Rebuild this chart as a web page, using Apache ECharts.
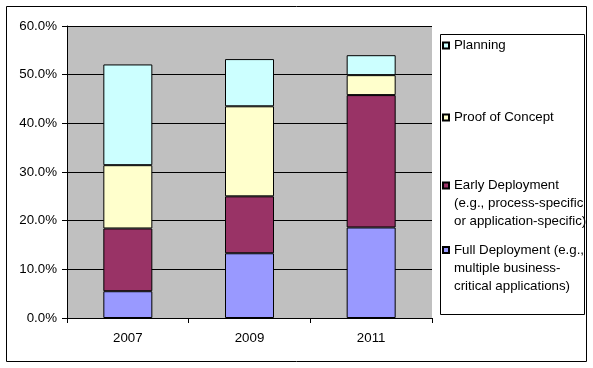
<!DOCTYPE html>
<html>
<head>
<meta charset="utf-8">
<script src="https://cdn.jsdelivr.net/npm/echarts@6/dist/echarts.min.js"></script>
<style>
html,body{margin:0;padding:0;background:#fff;}
#c{width:593px;height:368px;}
</style>
</head>
<body>
<div id="c"></div>
<script>
var categories = ['2007', '2009', '2011'];
var seriesNames = [
  'Full Deployment (e.g.,\nmultiple business-\ncritical applications)',
  'Early Deployment\n(e.g., process-specific\nor application-specific)',
  'Proof of Concept',
  'Planning'
];
var fullDeployment = [5.5, 13.3, 18.6];
var earlyDeployment = [12.9, 11.7, 27.2];
var proofOfConcept = [13.0, 18.5, 4.1];
var planning = [20.7, 9.7, 4.1];
var yTicks = [0, 10, 20, 30, 40, 50, 60];
var colors = ['#9999FF', '#993366', '#FFFFCC', '#CCFFFF'];

var values = [fullDeployment, earlyDeployment, proofOfConcept, planning];
var FONT = 'Liberation Sans, Arial, sans-serif';
var FS = 13.3;
var LH = 18;

var chart = echarts.init(document.getElementById('c'), null, {renderer: 'canvas'});

function legendFor(idx, centerY) {
  var name = seriesNames[idx];
  var lines = name.split('\n').length;
  var boxH = (2 * lines - 1) * LH;
  return {
    show: true,
    data: [name],
    left: 442,
    top: centerY - boxH / 2,
    orient: 'vertical',
    padding: 0,
    itemWidth: 6,
    itemHeight: 6,
    icon: 'rect',
    selectedMode: false,
    formatter: function (n) {
      var k = n.split('\n').length - 1;
      return new Array(k + 1).join('\n') + n;
    },
    textStyle: {fontFamily: FONT, fontSize: FS, color: '#000', lineHeight: LH}
  };
}

var series = values.map(function (arr, i) {
  return {
    name: seriesNames[i],
    type: 'bar',
    stack: 'total',
    barWidth: 49,
    data: arr,
    itemStyle: {color: colors[i], borderColor: '#000', borderWidth: 1},
    emphasis: {disabled: true},
    animation: false
  };
});

chart.setOption({
  animation: false,
  backgroundColor: '#fff',
  textStyle: {fontFamily: FONT},
  grid: {
    left: 67, right: 161, top: 26, bottom: 50,
    containLabel: false,
    outerBoundsMode: 'none',
    show: true,
    backgroundColor: '#C0C0C0',
    borderWidth: 0
  },
  legend: [
    legendFor(3, 45.5),
    legendFor(2, 117.5),
    legendFor(1, 185.5),
    legendFor(0, 250)
  ],
  xAxis: {
    type: 'category',
    data: categories,
    axisLine: {show: true, lineStyle: {color: '#000', width: 1}},
    axisTick: {show: true, length: 5, alignWithLabel: false, lineStyle: {color: '#000'}},
    axisLabel: {color: '#000', fontSize: FS, fontFamily: FONT, margin: 14},
    splitLine: {show: false}
  },
  yAxis: {
    type: 'value',
    min: yTicks[0],
    max: yTicks[yTicks.length - 1],
    interval: 10,
    axisLine: {show: true, lineStyle: {color: '#000', width: 1}},
    axisTick: {show: true, length: 5, lineStyle: {color: '#000'}},
    axisLabel: {
      color: '#000', fontSize: FS, fontFamily: FONT, margin: 10,
      formatter: function (v) { return v.toFixed(1) + '%'; }
    },
    splitLine: {show: true, lineStyle: {color: '#000', width: 1}}
  },
  graphic: [
    {type: 'rect', shape: {x: 6.5, y: 6.5, width: 580, height: 355}, style: {fill: null, stroke: '#000', lineWidth: 1}, silent: true, z: -1},
    {type: 'rect', shape: {x: 440.5, y: 34.5, width: 144, height: 280}, style: {fill: null, stroke: '#000', lineWidth: 1}, silent: true, z: -1}
  ],
  series: series
});
</script>
</body>
</html>
